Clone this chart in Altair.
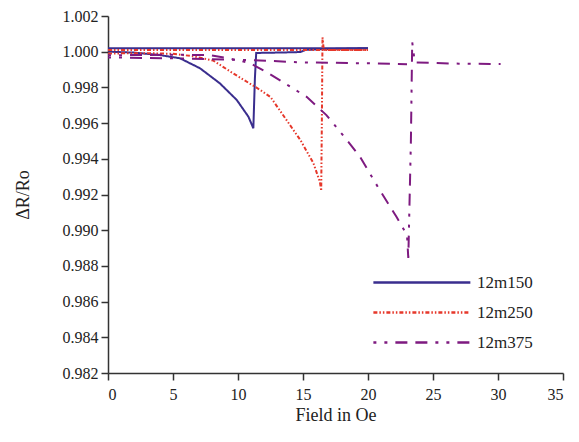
import altair as alt
import pandas as pd

# ---- data ----
series_names = ["12m150", "12m250", "12m375"]

# 12m150: field sweep down (with dip) and return branch
b150_down_x = [0, 2, 4.0, 5.54, 7.08, 8.6, 9.9, 10.8, 11.18, 11.3, 11.4, 13, 14.8, 15.2, 17, 20]
b150_down_y = [1.0000, 0.99995, 0.99981, 0.99963, 0.99907, 0.99823, 0.9973, 0.99636, 0.99571,
               0.9985, 0.99993, 0.99995, 0.99998, 1.0001, 1.00015, 1.0002]
b150_up_x = [0, 5, 10, 15, 20]
b150_up_y = [1.0002, 1.0002, 1.0002, 1.0002, 1.0002]

# 12m250
b250_down_x = [0, 3, 5, 6.5, 8.1, 9.6, 11.7, 12.5, 13.2, 14.8, 15.8, 16.3, 16.4, 16.45, 16.5,
               16.6, 18, 20]
b250_down_y = [0.9999, 0.99992, 0.99988, 0.99975, 0.9995, 0.9988, 0.99786, 0.99746, 0.99673,
               0.99505, 0.99376, 0.9927, 0.9922, 0.9960, 1.0008, 1.0001, 1.0001, 1.0001]
b250_up_x = [0, 5, 10, 15, 20]
b250_up_y = [1.0001, 1.0001, 1.0001, 1.0001, 1.0001]

# 12m375
b375_down_x = [0, 5, 7.8, 9.1, 10.9, 12.2, 15.3, 16.8, 18.5, 19.4, 20.9, 22.2, 23.0, 23.1, 23.3,
               23.4, 23.6, 25, 27, 30.2]
b375_down_y = [0.9998, 0.99983, 0.99981, 0.99965, 0.99937, 0.99886, 0.99746, 0.99645, 0.99494,
               0.9941, 0.99225, 0.99074, 0.98973, 0.98844, 0.9950, 1.00054, 0.9994, 0.99937,
               0.99933, 0.99931]
b375_up_x = [0, 5, 11, 15, 20, 23]
b375_up_y = [0.99968, 0.99963, 0.99953, 0.9994, 0.99935, 0.9993]

colors = ["#3a2e8e", "#e6382b", "#7e1a80"]
dashes = [[1, 0], [4, 2, 1.5, 2, 1.5, 2], [3, 8, 3, 8, 12, 8, 12, 8]]

rows = []
def add(name, branch, xs, ys):
    for i, (x, y) in enumerate(zip(xs, ys)):
        rows.append({"series": name, "branch": name + branch, "idx": i, "field": x, "ratio": y})

add("12m150", "d", b150_down_x, b150_down_y)
add("12m150", "u", b150_up_x, b150_up_y)
add("12m250", "d", b250_down_x, b250_down_y)
add("12m250", "u", b250_up_x, b250_up_y)
add("12m375", "d", b375_down_x, b375_down_y)
add("12m375", "u", b375_up_x, b375_up_y)
df = pd.DataFrame(rows)

font = "Liberation Serif"

chart = alt.Chart(df).mark_line(strokeWidth=2).encode(
    x=alt.X("field:Q", scale=alt.Scale(domain=[0, 35], nice=False),
            axis=alt.Axis(title="Field in Oe", values=list(range(0, 36, 5)))),
    y=alt.Y("ratio:Q", scale=alt.Scale(domain=[0.982, 1.002], nice=False, zero=False),
            axis=alt.Axis(title="ΔR/Ro", format=".3f",
                          values=[0.982, 0.984, 0.986, 0.988, 0.990, 0.992, 0.994, 0.996, 0.998, 1.000, 1.002])),
    color=alt.Color("series:N", scale=alt.Scale(domain=series_names, range=colors),
                    legend=alt.Legend(title=None, orient="none", legendX=264, legendY=253,
                                      symbolType="M-1,0H7", symbolSize=588, symbolStrokeWidth=2.5,
                                      symbolFillColor="transparent",
                                      labelFont=font, labelFontSize=17, labelColor="#222",
                                      rowPadding=8, labelOffset=78)),
    strokeDash=alt.StrokeDash("series:N", scale=alt.Scale(domain=series_names, range=dashes),
                              legend=alt.Legend(title=None)),
    detail="branch:N",
    order="idx:Q",
).properties(
    width=455, height=357,
    autosize=alt.AutoSizeParams(type="none"),
    padding={"left": 108, "top": 16, "right": 16, "bottom": 69},
).configure_view(stroke=None).configure_axis(
    grid=False, domainColor="#333", domainWidth=1.5, tickColor="#333", tickWidth=1.5, tickSize=7,
    labelFont=font, labelFontSize=16, labelColor="#222", titleFont=font, titleFontSize=18,
    titleFontWeight="normal", titleColor="#222",
).configure_axisX(labelPadding=6, titlePadding=4).configure_axisY(labelPadding=3, titlePadding=30)

chart.save("out.html", embed_options={"renderer": "svg", "actions": False})
